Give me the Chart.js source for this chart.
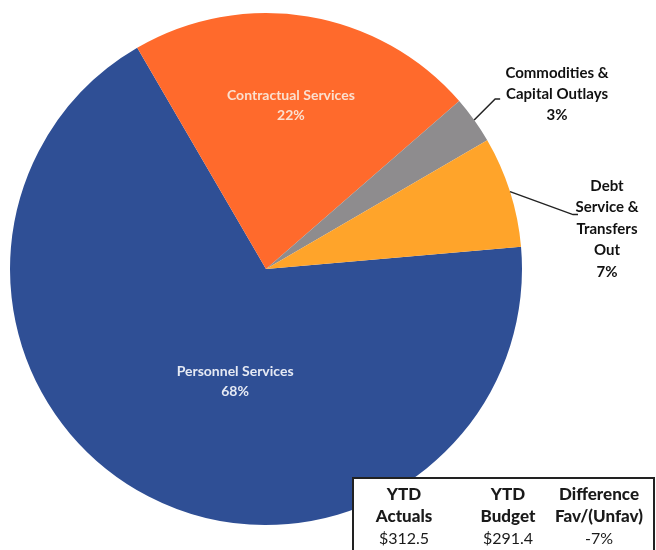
<!DOCTYPE html>
<html>
<head>
<meta charset="utf-8">
<script src="https://cdn.jsdelivr.net/npm/chart.js@4"></script>
<style>
  body { margin: 0; background: #fff; }
  #wrap { position: relative; width: 656px; height: 550px; overflow: hidden; }
  #ytd {
    position: absolute; left: 352px; top: 477px; width: 299px; height: 80px;
    border: 2px solid #222; background: #fff;
    font-family: Lato, "Liberation Sans", sans-serif; color: #1a1a1a;
  }
  .col { position: absolute; top: 4px; width: 130px; text-align: center; }
  .h { font-weight: 900; font-size: 17px; line-height: 22px; }
  .v { font-size: 16px; line-height: 22px; }
</style>
</head>
<body>
<div id="wrap">
  <canvas id="pie" width="656" height="550"></canvas>
  <div id="ytd"></div>
</div>
<script>
// datos del gráfico
const labels = ["Personnel Services", "Contractual Services", "Commodities & Capital Outlays", "Debt Service & Transfers Out"];
const values = [68, 22, 3, 7];
const colors = ["#2F4F95", "#FF6A2C", "#8E8C8E", "#FFA42A"];
const labelLines = [["Personnel Services", "68%"], ["Contractual Services", "22%"], ["Commodities &", "Capital Outlays", "3%"], ["Debt", "Service &", "Transfers", "Out", "7%"]];

// tabla YTD
const ytdHeaders = [["YTD", "Actuals"], ["YTD", "Budget"], ["Difference", "Fav/(Unfav)"]];
const ytdValues = ["$312.5", "$291.4", "-7%"];
const ytdCenters = [50, 154, 245];

let html = "";
ytdHeaders.forEach((h, i) => {
  html += '<div class="col" style="left:' + (ytdCenters[i] - 65) + 'px">' +
    '<div class="h">' + h.join("<br>") + '</div><div class="v">' + ytdValues[i] + '</div></div>';
});
document.getElementById("ytd").innerHTML = html;

// etiquetas: dentro o fuera con línea guía
const sliceLabels = {
  id: "sliceLabels",
  afterDatasetsDraw(chart) {
    const ctx = chart.ctx;
    const arcs = chart.getDatasetMeta(0).data;
    ctx.save();
    ctx.textAlign = "center";
    ctx.textBaseline = "middle";
    arcs.forEach((arc, i) => {
      const lines = labelLines[i];
      const mid = (arc.startAngle + arc.endAngle) / 2;
      if (i < 2) {
        const p = arc.tooltipPosition();
        const pos = i === 0 ? { x: p.x + 28, y: p.y - 1 } : { x: p.x + 4, y: p.y - 37 };
        ctx.fillStyle = i === 0 ? "#E6EAF4" : "#FBE0CF";
        ctx.font = "bold 14px Lato, 'Liberation Sans', sans-serif";
        lines.forEach((t, k) => ctx.fillText(t, pos.x, pos.y + (k - 0.5) * 20));
      } else {
        const sx = arc.x + Math.cos(mid) * arc.outerRadius;
        const sy = arc.y + Math.sin(mid) * arc.outerRadius;
        let ex, ey, tx, ty, step;
        if (i === 2) { ex = sx + 21; ey = sy - 21; tx = 557; ty = 73; step = 21; }
        else { ex = sx + 63; ey = sy + 23; tx = 607; ty = 186; step = 21.5; }
        ctx.strokeStyle = "#222";
        ctx.lineWidth = 1.5;
        ctx.beginPath();
        ctx.moveTo(sx, sy);
        ctx.lineTo(ex, ey);
        ctx.lineTo(ex + 5, ey);
        ctx.stroke();
        ctx.fillStyle = "#111";
        ctx.font = "bold 15px Lato, 'Liberation Sans', sans-serif";
        lines.forEach((t, k) => ctx.fillText(t, tx, ty + k * step));
      }
    });
    ctx.restore();
  }
};

new Chart(document.getElementById("pie").getContext("2d"), {
  type: "pie",
  data: {
    labels: labels,
    datasets: [{ data: values, backgroundColor: colors, borderWidth: 0 }]
  },
  options: {
    responsive: false,
    animation: false,
    rotation: 85,
    layout: { padding: { left: 10, right: 134, top: 13, bottom: 25 } },
    plugins: { legend: { display: false }, tooltip: { enabled: false } }
  },
  plugins: [sliceLabels]
});
</script>
</body>
</html>
